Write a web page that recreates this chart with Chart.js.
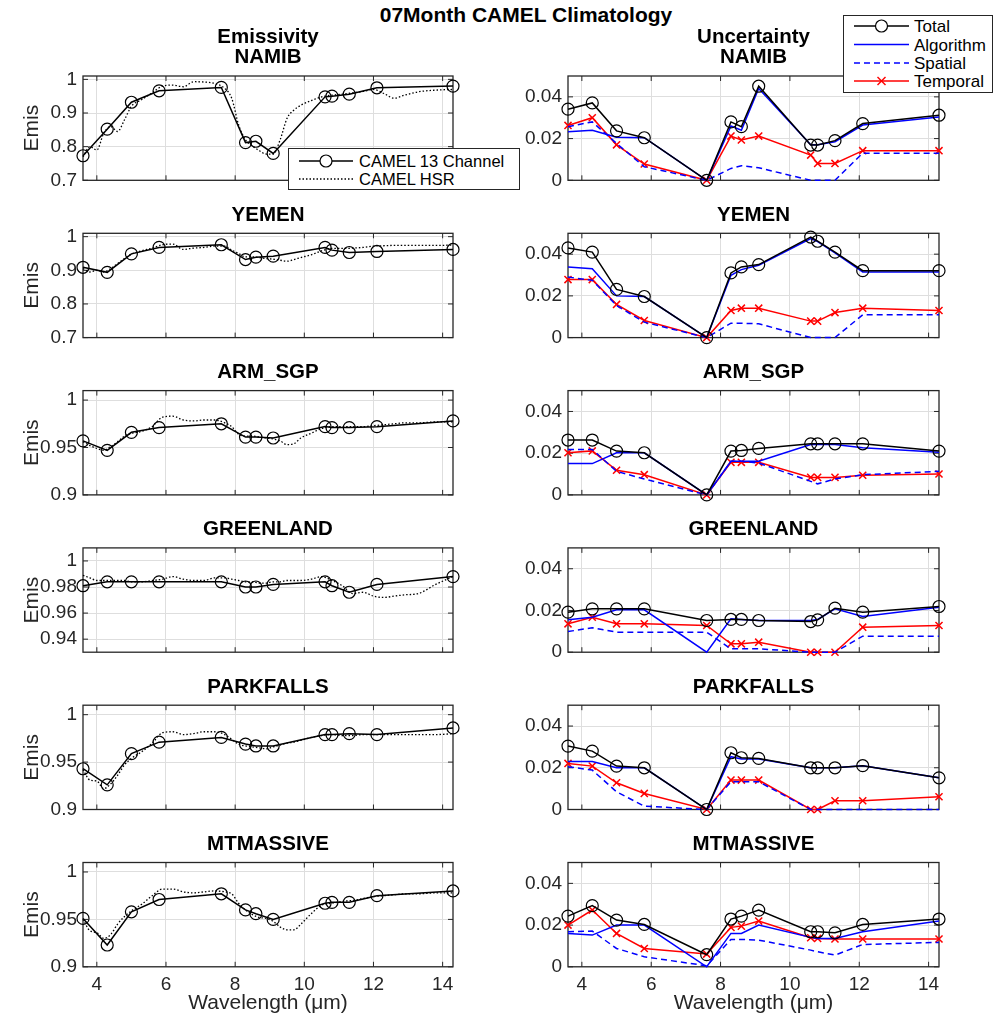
<!DOCTYPE html>
<html>
<head>
<meta charset="utf-8">
<script src="https://cdn.jsdelivr.net/npm/chart.js@4"></script>
<style>
  body { margin: 0; width: 995px; height: 1019px; background: #fff; position: relative; overflow: hidden;
         font-family: "Liberation Sans", Arial, sans-serif; }
  canvas { position: absolute; }
  #suptitle { position: absolute; left: 326px; width: 400px; top: 3px; text-align: center;
              font-weight: bold; font-size: 21px; line-height: 24px; color: #000; }
  .legend { position: absolute; background: #fff; border: 1px solid #262626; box-sizing: border-box; }
  .legend svg { position: absolute; left: 0; top: 0; }
  .legend span { position: absolute; transform: translateY(-50%); white-space: nowrap; color: #000; line-height: 1; }
</style>
</head>
<body>
<div id="suptitle">07Month CAMEL Climatology</div>

<script>
// CAMEL 13 hinge-point wavelengths (um)
const wavelengths = [3.6, 4.3, 5.0, 5.8, 7.6, 8.3, 8.6, 9.1, 10.6, 10.8, 11.3, 12.1, 14.3];
const hsrWave = [3.6, 3.8, 4.0, 4.2, 4.4, 4.6, 4.8, 5.0, 5.3, 5.6, 5.9, 6.2, 6.5, 6.8, 7.1, 7.4, 7.7, 7.9, 8.1, 8.3,
                 8.5, 8.7, 8.9, 9.1, 9.3, 9.5, 9.7, 9.9, 10.2, 10.5, 10.8, 11.1, 11.4, 11.7, 12.0, 12.3, 12.6, 12.9, 13.3, 13.8, 14.3];

const xTicks = [4, 6, 8, 10, 12, 14];
const uncTicks = [0, 0.02, 0.04];

// NAMIB
const namibEmis = [0.773, 0.852, 0.932, 0.966, 0.976, 0.812, 0.816, 0.780, 0.948, 0.950, 0.956, 0.975, 0.980];
const namibHsr = [0.770, 0.800, 0.790, 0.840, 0.860, 0.845, 0.880, 0.920, 0.940, 0.960, 0.980, 0.983, 0.978, 0.993, 0.992, 0.988, 0.973, 0.944, 0.865, 0.820,
                  0.802, 0.788, 0.778, 0.778, 0.820, 0.884, 0.909, 0.923, 0.937, 0.948, 0.953, 0.956, 0.960, 0.964, 0.970, 0.958, 0.944, 0.953, 0.963, 0.968, 0.970];
const namibTotal = [0.0341, 0.0371, 0.0237, 0.0204, 0.0, 0.0280, 0.0257, 0.0451, 0.0169, 0.0169, 0.0190, 0.0272, 0.0312];
const namibAlgorithm = [0.0233, 0.0240, 0.0206, 0.0204, 0.0, 0.0260, 0.0240, 0.0440, 0.0170, 0.0170, 0.0185, 0.0265, 0.0304];
const namibSpatial = [0.0257, 0.0280, 0.0177, 0.0065, 0.0, 0.0057, 0.0070, 0.0060, 0.0, 0.0, 0.0, 0.0130, 0.0130];
const namibTemporal = [0.0263, 0.0300, 0.0170, 0.0078, 0.0, 0.0212, 0.0193, 0.0212, 0.0121, 0.0081, 0.0081, 0.0142, 0.0142];

// YEMEN
const yemenEmis = [0.909, 0.894, 0.949, 0.968, 0.976, 0.932, 0.939, 0.942, 0.968, 0.960, 0.953, 0.956, 0.962];
const yemenHsr = [0.905, 0.895, 0.900, 0.895, 0.905, 0.920, 0.935, 0.948, 0.958, 0.966, 0.976, 0.978, 0.962, 0.966, 0.968, 0.972, 0.972, 0.960, 0.950, 0.940,
                  0.940, 0.938, 0.935, 0.933, 0.930, 0.927, 0.932, 0.938, 0.946, 0.958, 0.965, 0.965, 0.966, 0.968, 0.972, 0.973, 0.974, 0.974, 0.974, 0.974, 0.975];
const yemenTotal = [0.0430, 0.0410, 0.0231, 0.0197, 0.0, 0.0310, 0.0339, 0.0350, 0.0482, 0.0462, 0.0410, 0.0321, 0.0321];
const yemenAlgorithm = [0.0339, 0.0330, 0.0200, 0.0197, 0.0, 0.0299, 0.0326, 0.0347, 0.0475, 0.0460, 0.0406, 0.0315, 0.0315];
const yemenSpatial = [0.0290, 0.0275, 0.0154, 0.0074, 0.0, 0.0069, 0.0069, 0.0066, 0.0, 0.0, 0.0, 0.0109, 0.0109];
const yemenTemporal = [0.0278, 0.0278, 0.0159, 0.0082, 0.0, 0.0130, 0.0141, 0.0141, 0.0079, 0.0079, 0.0120, 0.0141, 0.0130];

// ARM_SGP
const armEmis = [0.957, 0.947, 0.966, 0.971, 0.975, 0.961, 0.961, 0.960, 0.972, 0.971, 0.971, 0.972, 0.978];
const armHsr = [0.956, 0.952, 0.949, 0.947, 0.951, 0.956, 0.962, 0.965, 0.967, 0.972, 0.982, 0.983, 0.979, 0.978, 0.979, 0.979, 0.976, 0.972, 0.964, 0.962,
                0.962, 0.961, 0.960, 0.959, 0.957, 0.953, 0.954, 0.960, 0.965, 0.970, 0.972, 0.972, 0.972, 0.972, 0.973, 0.974, 0.975, 0.976, 0.976, 0.977, 0.977];
const armTotal = [0.0263, 0.0263, 0.0210, 0.0202, 0.0, 0.0210, 0.0213, 0.0223, 0.0245, 0.0245, 0.0245, 0.0245, 0.0210];
const armAlgorithm = [0.0150, 0.0150, 0.0202, 0.0202, 0.0, 0.0161, 0.0161, 0.0161, 0.0242, 0.0242, 0.0242, 0.0226, 0.0205];
const armSpatial = [0.0218, 0.0218, 0.0113, 0.0076, 0.0, 0.0161, 0.0161, 0.0153, 0.0065, 0.0053, 0.0076, 0.0097, 0.0113];
const armTemporal = [0.0202, 0.0211, 0.0118, 0.0097, 0.0, 0.0156, 0.0156, 0.0156, 0.0084, 0.0084, 0.0084, 0.0094, 0.0100];

// GREENLAND
const greenEmis = [0.981, 0.984, 0.984, 0.984, 0.984, 0.980, 0.980, 0.982, 0.984, 0.981, 0.976, 0.982, 0.988];
const greenHsr = [0.989, 0.987, 0.985, 0.985, 0.985, 0.985, 0.985, 0.984, 0.984, 0.985, 0.986, 0.988, 0.986, 0.985, 0.985, 0.987, 0.987, 0.986, 0.985, 0.984,
                  0.984, 0.983, 0.983, 0.984, 0.984, 0.985, 0.985, 0.985, 0.986, 0.988, 0.985, 0.981, 0.975, 0.976, 0.973, 0.972, 0.973, 0.974, 0.975, 0.982, 0.988];
const greenTotal = [0.0192, 0.0208, 0.0208, 0.0208, 0.0152, 0.0157, 0.0157, 0.0152, 0.0147, 0.0155, 0.0211, 0.0192, 0.0219];
const greenAlgorithm = [0.0155, 0.0168, 0.0203, 0.0203, 0.0, 0.0160, 0.0157, 0.0152, 0.0152, 0.0157, 0.0208, 0.0171, 0.0216];
const greenSpatial = [0.0099, 0.0117, 0.0096, 0.0096, 0.0096, 0.0016, 0.0016, 0.0016, 0.0, 0.0, 0.0, 0.0077, 0.0077];
const greenTemporal = [0.0136, 0.0168, 0.0136, 0.0136, 0.0128, 0.0040, 0.0040, 0.0048, 0.0, 0.0, 0.0, 0.0120, 0.0128];

// PARKFALLS
const parkEmis = [0.943, 0.926, 0.959, 0.971, 0.976, 0.969, 0.967, 0.967, 0.979, 0.979, 0.980, 0.979, 0.986];
const parkHsr = [0.942, 0.931, 0.930, 0.922, 0.927, 0.936, 0.947, 0.954, 0.961, 0.970, 0.981, 0.982, 0.979, 0.980, 0.982, 0.982, 0.979, 0.974, 0.969, 0.967,
                 0.966, 0.965, 0.964, 0.966, 0.968, 0.970, 0.971, 0.973, 0.976, 0.978, 0.979, 0.978, 0.978, 0.979, 0.979, 0.979, 0.979, 0.979, 0.979, 0.979, 0.980];
const parkTotal = [0.0304, 0.0280, 0.0208, 0.0200, 0.0, 0.0272, 0.0248, 0.0245, 0.0200, 0.0200, 0.0200, 0.0210, 0.0152];
const parkAlgorithm = [0.0230, 0.0230, 0.0200, 0.0200, 0.0, 0.0253, 0.0242, 0.0242, 0.0200, 0.0200, 0.0200, 0.0210, 0.0152];
const parkSpatial = [0.0205, 0.0189, 0.0085, 0.0016, 0.0, 0.0133, 0.0133, 0.0133, 0.0, 0.0, 0.0, 0.0, 0.0];
const parkTemporal = [0.0221, 0.0208, 0.0128, 0.0077, 0.0, 0.0141, 0.0141, 0.0141, 0.0, 0.0, 0.0042, 0.0042, 0.0061];

// MTMASSIVE
const mtEmis = [0.951, 0.923, 0.958, 0.971, 0.977, 0.960, 0.956, 0.950, 0.967, 0.968, 0.968, 0.975, 0.980];
const mtHsr = [0.950, 0.938, 0.936, 0.930, 0.934, 0.945, 0.953, 0.959, 0.966, 0.975, 0.982, 0.982, 0.979, 0.978, 0.979, 0.980, 0.979, 0.977, 0.967, 0.960,
               0.955, 0.952, 0.951, 0.948, 0.942, 0.939, 0.939, 0.945, 0.956, 0.965, 0.967, 0.969, 0.970, 0.972, 0.974, 0.975, 0.976, 0.977, 0.977, 0.978, 0.978];
const mtTotal = [0.0243, 0.0293, 0.0224, 0.0203, 0.0058, 0.0229, 0.0243, 0.0272, 0.0168, 0.0168, 0.0163, 0.0203, 0.0229];
const mtAlgorithm = [0.0160, 0.0152, 0.0200, 0.0200, 0.0, 0.0160, 0.0160, 0.0200, 0.0141, 0.0136, 0.0136, 0.0168, 0.0219];
const mtSpatial = [0.0168, 0.0171, 0.0088, 0.0048, 0.0005, 0.0131, 0.0131, 0.0128, 0.0080, 0.0072, 0.0056, 0.0107, 0.0117];
const mtTemporal = [0.0200, 0.0272, 0.0160, 0.0088, 0.0061, 0.0189, 0.0195, 0.0219, 0.0139, 0.0136, 0.0133, 0.0133, 0.0133];

const sites = [
  { name: 'NAMIB', emis: namibEmis, hsr: namibHsr, total: namibTotal, alg: namibAlgorithm, spa: namibSpatial, tem: namibTemporal,
    yMin: 0.7, yTicks: [0.7, 0.8, 0.9, 1] },
  { name: 'YEMEN', emis: yemenEmis, hsr: yemenHsr, total: yemenTotal, alg: yemenAlgorithm, spa: yemenSpatial, tem: yemenTemporal,
    yMin: 0.7, yTicks: [0.7, 0.8, 0.9, 1] },
  { name: 'ARM_SGP', emis: armEmis, hsr: armHsr, total: armTotal, alg: armAlgorithm, spa: armSpatial, tem: armTemporal,
    yMin: 0.9, yTicks: [0.9, 0.95, 1] },
  { name: 'GREENLAND', emis: greenEmis, hsr: greenHsr, total: greenTotal, alg: greenAlgorithm, spa: greenSpatial, tem: greenTemporal,
    yMin: 0.93, yTicks: [0.94, 0.96, 0.98, 1] },
  { name: 'PARKFALLS', emis: parkEmis, hsr: parkHsr, total: parkTotal, alg: parkAlgorithm, spa: parkSpatial, tem: parkTemporal,
    yMin: 0.9, yTicks: [0.9, 0.95, 1] },
  { name: 'MTMASSIVE', emis: mtEmis, hsr: mtHsr, total: mtTotal, alg: mtAlgorithm, spa: mtSpatial, tem: mtTemporal,
    yMin: 0.9, yTicks: [0.9, 0.95, 1] },
];

Chart.defaults.font.family = '"Liberation Sans", Arial, sans-serif';
Chart.defaults.color = '#262626';

const gridColor = '#dedede';
const axisColor = '#262626';

// axes box + inward tick marks, matlab style
const framePlugin = {
  id: 'frame',
  beforeDatasetsDraw(chart) {
    const { ctx, chartArea: a, scales: { x, y } } = chart;
    ctx.save();
    ctx.strokeStyle = axisColor;
    ctx.lineWidth = 1;
    ctx.beginPath();
    x.ticks.forEach(t => {
      const px = x.getPixelForValue(t.value);
      ctx.moveTo(px, a.bottom); ctx.lineTo(px, a.bottom - 5);
      ctx.moveTo(px, a.top); ctx.lineTo(px, a.top + 5);
    });
    y.ticks.forEach(t => {
      const py = y.getPixelForValue(t.value);
      ctx.moveTo(a.left, py); ctx.lineTo(a.left + 5, py);
      ctx.moveTo(a.right, py); ctx.lineTo(a.right - 5, py);
    });
    ctx.stroke();
    ctx.lineWidth = 1.3;
    ctx.strokeRect(a.left, a.top, a.right - a.left, a.bottom - a.top);
    ctx.restore();
  }
};

const pts = (xs, ys) => xs.map((w, i) => ({ x: w, y: ys[i] }));
const fmt = v => String(Math.round(v * 1000) / 1000);

const firstTop = 76, rowStep = 157.3, plotH = 104.3;
const titleLine = 20.5, titlePadBottom = 8;

function addCanvas(left, top, w, h) {
  const c = document.createElement('canvas');
  c.width = w; c.height = h;
  c.style.left = left + 'px'; c.style.top = top + 'px';
  c.style.width = w + 'px'; c.style.height = h + 'px';
  document.body.appendChild(c);
  return c;
}

function makePanel(i, col) {
  const s = sites[i];
  const isBottom = i === sites.length - 1;
  const plotTop = firstTop + i * rowStep;
  const left = col === 0 ? 0 : 500;
  const yAxisW = col === 0 ? 83 : 68;
  const plotW = col === 0 ? 370 : 371;
  const padRight = 12;
  const titleText = i === 0 ? [col === 0 ? 'Emissivity' : 'Uncertainty', s.name] : [s.name];
  const titleH = titleText.length * titleLine + titlePadBottom;
  const xAxisH = isBottom ? 49 : 0;
  const top = Math.floor(plotTop - titleH - 2);
  const padTop = plotTop - titleH - top;
  const height = Math.ceil(padTop + titleH + plotH + xAxisH + 20);
  const padBottom = height - (padTop + titleH + plotH + xAxisH);
  const width = yAxisW + plotW + padRight;
  const canvas = addCanvas(left, top, width, height);

  let datasets;
  if (col === 0) {
    datasets = [
      { label: 'CAMEL 13 Channel', data: pts(wavelengths, s.emis), borderColor: '#000', borderWidth: 1.5,
        pointStyle: 'circle', pointRadius: 6, pointBorderWidth: 1.2, pointBorderColor: '#000',
        pointBackgroundColor: 'rgba(0,0,0,0)', clip: false },
      { label: 'CAMEL HSR', data: pts(hsrWave, s.hsr), borderColor: '#000', borderWidth: 1.3,
        borderDash: [1.5, 2], pointRadius: 0, cubicInterpolationMode: 'monotone', clip: false },
    ];
  } else {
    datasets = [
      { label: 'Total', data: pts(wavelengths, s.total), borderColor: '#000', borderWidth: 1.5,
        pointStyle: 'circle', pointRadius: 6, pointBorderWidth: 1.2, pointBorderColor: '#000',
        pointBackgroundColor: 'rgba(0,0,0,0)', clip: false },
      { label: 'Algorithm', data: pts(wavelengths, s.alg), borderColor: '#0000ff', borderWidth: 1.5,
        pointRadius: 0, clip: false },
      { label: 'Spatial', data: pts(wavelengths, s.spa), borderColor: '#0000ff', borderWidth: 1.5,
        borderDash: [6, 4], pointRadius: 0, clip: false },
      { label: 'Temporal', data: pts(wavelengths, s.tem), borderColor: '#ff0000', borderWidth: 1.5,
        pointStyle: 'crossRot', pointRadius: 5, pointBorderWidth: 1.5, pointBorderColor: '#ff0000', clip: false },
    ];
  }

  const yMin = col === 0 ? s.yMin : 0;
  const yMax = col === 0 ? 1.01 : 0.05;
  const yT = col === 0 ? s.yTicks : uncTicks;

  new Chart(canvas, {
    type: 'line',
    data: { datasets },
    options: {
      responsive: false,
      animation: false,
      devicePixelRatio: 1,
      layout: { padding: { top: padTop, left: 0, right: padRight, bottom: padBottom } },
      plugins: {
        legend: { display: false },
        tooltip: { enabled: false },
        title: {
          display: true, text: titleText, fullSize: false, color: '#000',
          font: { size: 20.5, weight: 'bold', lineHeight: 1 },
          padding: { top: 0, bottom: titlePadBottom }
        }
      },
      scales: {
        x: {
          type: 'linear', min: 3.6, max: 14.3,
          afterBuildTicks: sc => { sc.ticks = xTicks.map(v => ({ value: v })); },
          afterFit: sc => { sc.height = xAxisH; },
          ticks: { display: isBottom, font: { size: 19 }, padding: 6.6, maxRotation: 0, autoSkip: false, color: axisColor },
          grid: { color: gridColor, drawTicks: false },
          border: { display: false },
          title: { display: isBottom, text: 'Wavelength (μm)', font: { size: 21 }, color: axisColor, padding: { top: 0, bottom: 0 } }
        },
        y: {
          type: 'linear', min: yMin, max: yMax,
          afterBuildTicks: sc => { sc.ticks = yT.map(v => ({ value: v })); },
          afterFit: sc => { sc.width = yAxisW; },
          ticks: { font: { size: 19 }, padding: 6, color: axisColor, callback: v => fmt(v) },
          grid: { color: gridColor, drawTicks: false },
          border: { display: false },
          title: { display: col === 0, text: 'Emis', font: { size: 21 }, color: axisColor, padding: { top: 19.5, bottom: 0 } }
        }
      }
    },
    plugins: [framePlugin]
  });
}

sites.forEach((s, i) => { makePanel(i, 0); makePanel(i, 1); });
</script>

<div class="legend" style="left:288px;top:148px;width:232px;height:42px;">
  <svg width="232" height="42">
    <line x1="10" y1="12" x2="64" y2="12" stroke="#000" stroke-width="1.5"/>
    <circle cx="37" cy="12" r="6" fill="#fff" stroke="#000" stroke-width="1.2"/>
    <line x1="10" y1="30" x2="64" y2="30" stroke="#000" stroke-width="1.3" stroke-dasharray="1.5 2"/>
  </svg>
  <span style="left:70px;top:12px;font-size:16.5px;">CAMEL 13 Channel</span>
  <span style="left:70px;top:30px;font-size:16.5px;">CAMEL HSR</span>
</div>

<div class="legend" style="left:843px;top:15px;width:150px;height:78px;">
  <svg width="150" height="78">
    <line x1="10" y1="10" x2="65" y2="10" stroke="#000" stroke-width="1.5"/>
    <circle cx="37.5" cy="10" r="6" fill="#fff" stroke="#000" stroke-width="1.2"/>
    <line x1="10" y1="28.5" x2="65" y2="28.5" stroke="#0000ff" stroke-width="1.5"/>
    <line x1="10" y1="47" x2="65" y2="47" stroke="#0000ff" stroke-width="1.5" stroke-dasharray="6 4"/>
    <line x1="10" y1="65" x2="65" y2="65" stroke="#ff0000" stroke-width="1.5"/>
    <line x1="33.5" y1="61" x2="41.5" y2="69" stroke="#ff0000" stroke-width="1.5"/>
    <line x1="33.5" y1="69" x2="41.5" y2="61" stroke="#ff0000" stroke-width="1.5"/>
  </svg>
  <span style="left:70px;top:10px;font-size:17px;">Total</span>
  <span style="left:70px;top:28.5px;font-size:17px;">Algorithm</span>
  <span style="left:70px;top:47px;font-size:17px;">Spatial</span>
  <span style="left:70px;top:65px;font-size:17px;">Temporal</span>
</div>
</body>
</html>
